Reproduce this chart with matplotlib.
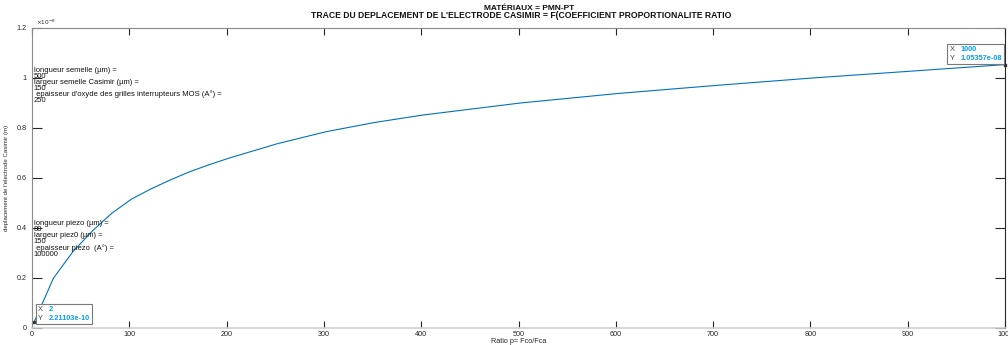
import numpy as np
import matplotlib
matplotlib.use("Agg")
import matplotlib.pyplot as plt
from matplotlib.offsetbox import TextArea, HPacker, AnnotationBbox

plt.rcParams['font.family'] = ['Liberation Sans', 'DejaVu Sans']

# data (displacement in units of 1e-8 m)
ratio = [2, 22, 42, 62, 82, 102, 122, 142, 162, 182, 202, 252, 302, 352,
         402, 502, 602, 702, 802, 902, 1000]
disp_e8 = [0.0221103, 0.199, 0.305, 0.388, 0.459, 0.515, 0.556, 0.592, 0.625,
           0.653, 0.679, 0.737, 0.785, 0.822, 0.852, 0.900, 0.938, 0.970,
           1.000, 1.027, 1.05357]

x_ticks = [0, 100, 200, 300, 400, 500, 600, 700, 800, 900, 1000]
y_ticks = [0, 0.2, 0.4, 0.6, 0.8, 1.0, 1.2]
y_tick_labels = ['0', '0.2', '0.4', '0.6', '0.8', '1', '1.2']

title_lines = ["MATÉRIAUX = PMN-PT",
               "TRACE DU DEPLACEMENT DE L'ELECTRODE CASIMIR = F(COEFFICIENT PROPORTIONALITE RATIO"]
semelle_txt = ["longueur semelle (µm) =", "500",
               "largeur semelle Casimir (µm) =", "150",
               " epaisseur d'oxyde des grilles interrupteurs MOS (A°) =", "250"]
piezo_txt = ["longueur piezo (µm) =", "80",
             "largeur piez0 (µm) =", "150",
             " epaisseur piezo  (A°) =", "100000"]

W, H = 1008, 345
fig = plt.figure(figsize=(W / 100, H / 100), dpi=100)
fig.patch.set_facecolor('white')

ax = fig.add_axes([32 / W, 17 / H, (1005 - 32) / W, 300 / H])
ax.plot(ratio, disp_e8, color='#0072BD', lw=0.8)

ax.set_xlim(0, 1000)
ax.set_ylim(0, 1.2)
ax.set_xticks(x_ticks)
ax.set_yticks(y_ticks)
ax.set_yticklabels(y_tick_labels)
ax.tick_params(axis='both', direction='in', labelsize=5.2, colors='#262626',
               top=True, right=True, width=0.8)
ax.tick_params(axis='y', length=7, pad=4)
ax.tick_params(axis='x', length=5, pad=2)
for sp in ax.spines.values():
    sp.set_color('#8a8a8a')
    sp.set_linewidth(0.8)
ax.spines['bottom'].set_color('#d0d0d0')
ax.spines['bottom'].set_linewidth(1.2)
ax.spines['right'].set_color('#262626')

ax.set_xlabel("Ratio p= Fco/Fca", fontsize=5.2, color='#262626', labelpad=0.5)
ax.set_ylabel("deplacement de l'electrode Casimir (m)", fontsize=4.4,
              color='#262626', labelpad=5)

# exponent label like MATLAB
ax.text(0.004, 1.004, r"$\times10^{-8}$", transform=ax.transAxes,
        fontsize=4.2, color='#262626', ha='left', va='bottom')

fig.text(529 / W, 1 - 8 / H, title_lines[0], ha='center', va='center',
         fontsize=6.0, fontweight='bold', color='#111111')
fig.text(521 / W, 1 - 15.5 / H, title_lines[1], ha='center', va='center',
         fontsize=6.2, fontweight='bold', color='#111111')

ax.text(2, 1.045, "\n".join(semelle_txt), fontsize=5.5, linespacing=0.8,
        va='top', ha='left', color='#111111')
ax.text(2, 0.432, "\n".join(piezo_txt), fontsize=5.5, linespacing=0.82,
        va='top', ha='left', color='#111111')

# data tips (MATLAB style)
tips = [(ratio[0], disp_e8[0], 6, 0.056),
        (ratio[-1], disp_e8[-1], 943, 1.096)]
for xv, yv, tx, ty in tips:
    ax.plot([xv], [yv], 's', ms=1.5, color='#333333', clip_on=False)
    vals = "%g\n%.6g" % (xv, yv * 1e-8)
    lab = TextArea("X\nY", textprops=dict(fontsize=5.3, color='#444444',
                                          linespacing=1.3))
    num = TextArea(vals, textprops=dict(fontsize=5.3, color='#0a9cf5',
                                        fontweight='bold', linespacing=1.3))
    pack = HPacker(children=[lab, num], sep=4.5, pad=0, align='center')
    ab = AnnotationBbox(pack, (tx, ty), box_alignment=(0, 0.5), pad=0.45,
                        frameon=True, fontsize=5.3,
                        bboxprops=dict(boxstyle='square', fc='white',
                                       ec='#7a7a7a', lw=0.8))
    ax.add_artist(ab)

fig.savefig("out.png", dpi=100)
